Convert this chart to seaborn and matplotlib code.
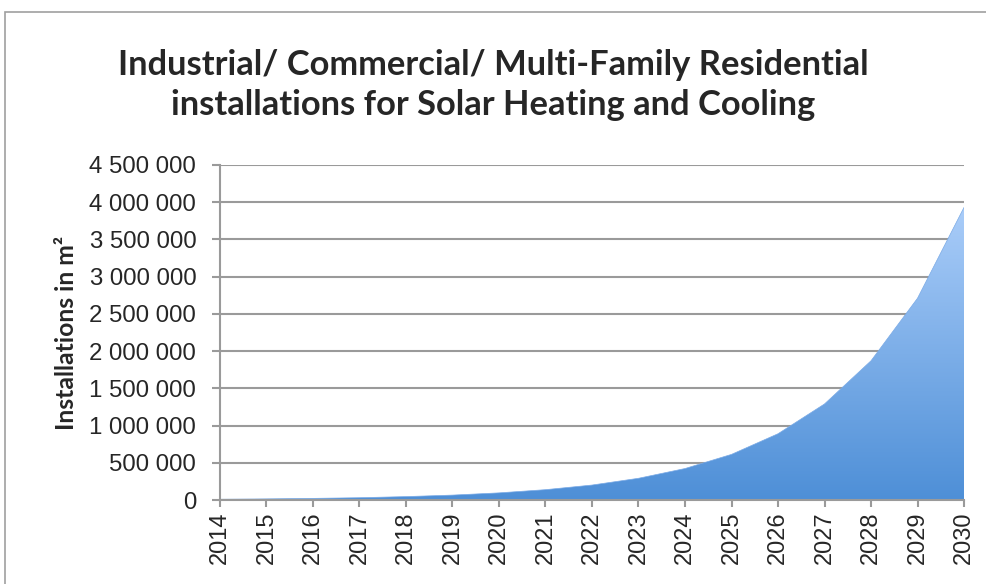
import numpy as np
import pandas as pd
import seaborn as sns
import matplotlib.pyplot as plt
from matplotlib.patches import Rectangle
from matplotlib.colors import LinearSegmentedColormap

# data
years = list(range(2014, 2031))
installations = [10000, 15000, 22000, 31000, 46000, 66000, 96000, 139000, 201000,
                 292000, 423000, 613000, 890000, 1290000, 1870000, 2710000, 3930000]
yticks = [0, 500000, 1000000, 1500000, 2000000, 2500000, 3000000, 3500000, 4000000, 4500000]

df = pd.DataFrame({"year": years, "m2": installations})

sns.set_style("white")
plt.rcParams["font.family"] = ["Liberation Sans", "DejaVu Sans"]

fig = plt.figure(figsize=(9.86, 5.84), dpi=100)
ax = fig.add_axes([0.2231, 0.1438, 0.7546, 0.5737])

# area with vertical gradient
poly = ax.fill_between(df["year"], 0, df["m2"], color="none", lw=0)
cmap = LinearSegmentedColormap.from_list("blu", ["#4e8fd7", "#aacdf9"])
grad = np.linspace(0, 1, 256).reshape(-1, 1)
img = ax.imshow(grad, cmap=cmap, aspect="auto", origin="lower",
                extent=[2014, 2030, 0, max(installations)], zorder=2)
img.set_clip_path(poly.get_paths()[0], transform=ax.transData)
sns.lineplot(data=df, x="year", y="m2", ax=ax, color="#7aaae6", lw=0.5, zorder=3)

ax.set_xlim(2014, 2030)
ax.set_ylim(0, 4500000)
ax.set_xticks(years)
ax.set_xticklabels([str(y) for y in years], rotation=90, fontsize=17)
ax.set_yticks(yticks)
ax.set_yticklabels([f"{v:,}".replace(",", " ") for v in yticks], fontsize=17.3)
ax.yaxis.grid(True, color="#9a9a9a", lw=1.5, zorder=1)
ax.set_axisbelow(True)
for s in ["top", "right"]:
    ax.spines[s].set_visible(False)
for s in ["left", "bottom"]:
    ax.spines[s].set_color("#9a9a9a")
    ax.spines[s].set_linewidth(1.5)
    ax.spines[s].set_zorder(4)
ax.tick_params(axis="y", length=6, width=1.5, color="#9a9a9a", direction="out",
               left=True, pad=11)
ax.tick_params(axis="x", length=5, width=1.5, color="#9a9a9a", direction="out",
               bottom=True, pad=3)

ax.set_xlabel("")
ax.set_ylabel("Installations in m²", fontsize=17.8, fontweight="bold",
              family=["Lato", "DejaVu Sans"], labelpad=8)

fig.text(0.500, 0.854, "Industrial/ Commercial/ Multi-Family Residential\n"
         "installations for Solar Heating and Cooling",
         ha="center", va="center", fontsize=24.8, fontweight="bold",
         family=["Lato", "DejaVu Sans"], linespacing=1.3)

# chart frame
fig.patches.append(Rectangle((5 / 986, -0.1), 1.1, 1.1 - 12 / 584, transform=fig.transFigure,
                             fill=False, edgecolor="#a0a0a0", lw=1.2))

fig.savefig("out.png", dpi=100)
